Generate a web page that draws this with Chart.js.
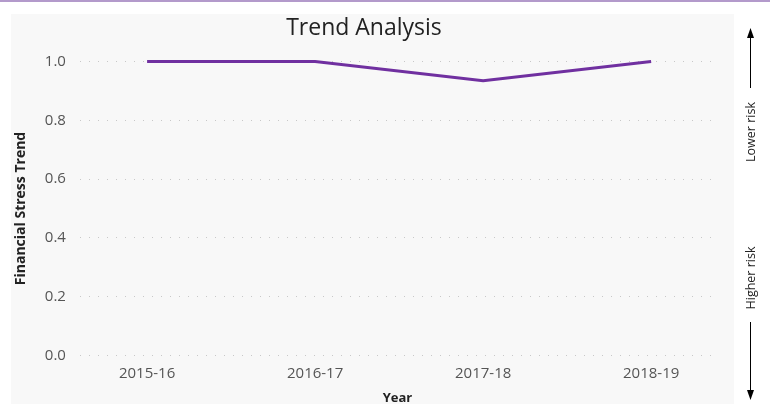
<!DOCTYPE html>
<html>
<head>
<meta charset="utf-8">
<script src="https://cdn.jsdelivr.net/npm/chart.js@4"></script>
<style>
  body { margin: 0; background: #fff; }
  #wrap { position: relative; width: 770px; height: 404px; }
</style>
</head>
<body>
<div id="wrap"><canvas id="trend" width="770" height="404"></canvas></div>
<script>
// chart data
const years = ['2015-16', '2016-17', '2017-18', '2018-19'];
const stressTrend = [1.0, 1.0, 0.935, 1.0];
const yTicks = [0, 0.2, 0.4, 0.6, 0.8, 1.0];

const FONT = "'Open Sans', 'DejaVu Sans', sans-serif";

// background panel, top border and the risk arrows on the right
const decor = {
  id: 'decor',
  beforeDraw(chart) {
    const ctx = chart.ctx;
    ctx.save();
    ctx.fillStyle = '#f8f8f8';
    ctx.fillRect(11, 14, 723, 390);
    ctx.fillStyle = '#b39acb';
    ctx.fillRect(0, 0, 770, 2);
    ctx.restore();
  },
  afterDraw(chart) {
    const ctx = chart.ctx;
    const x = 750;
    ctx.save();
    ctx.strokeStyle = '#000';
    ctx.fillStyle = '#000';
    ctx.lineWidth = 1;
    // up arrow
    ctx.beginPath();
    ctx.moveTo(x + 0.5, 36);
    ctx.lineTo(x + 0.5, 88);
    ctx.stroke();
    ctx.beginPath();
    ctx.moveTo(x + 0.5, 28);
    ctx.lineTo(x - 3, 38);
    ctx.lineTo(x + 4, 38);
    ctx.closePath();
    ctx.fill();
    // down arrow
    ctx.beginPath();
    ctx.moveTo(x + 0.5, 322);
    ctx.lineTo(x + 0.5, 392);
    ctx.stroke();
    ctx.beginPath();
    ctx.moveTo(x + 0.5, 400);
    ctx.lineTo(x - 3, 390);
    ctx.lineTo(x + 4, 390);
    ctx.closePath();
    ctx.fill();
    // rotated labels
    ctx.font = '12.5px ' + FONT;
    ctx.textAlign = 'center';
    ctx.textBaseline = 'middle';
    ctx.fillStyle = '#222';
    [['Lower risk', 132], ['Higher risk', 278]].forEach(([t, y]) => {
      ctx.save();
      ctx.translate(x + 1, y);
      ctx.rotate(-Math.PI / 2);
      ctx.fillText(t, 0, 0);
      ctx.restore();
    });
    ctx.restore();
  }
};

new Chart(document.getElementById('trend'), {
  type: 'line',
  data: {
    datasets: [{
      data: stressTrend.map((v, i) => ({ x: i, y: v })),
      borderColor: '#7030a0',
      borderWidth: 3,
      pointRadius: 0,
      tension: 0,
      fill: false,
      clip: false
    }]
  },
  options: {
    responsive: false,
    animation: false,
    layout: { padding: { left: 13, right: 55, top: 12, bottom: -2 } },
    plugins: {
      legend: { display: false },
      tooltip: { enabled: false },
      title: {
        display: true,
        text: 'Trend Analysis',
        color: '#222',
        font: { family: FONT, size: 23, weight: 'normal' },
        padding: { top: 3, bottom: 19 }
      }
    },
    scales: {
      x: {
        type: 'linear',
        min: -0.4,
        max: 3.38,
        afterBuildTicks: s => { s.ticks = years.map((y, i) => ({ value: i })); },
        ticks: {
          callback: v => years[v],
          color: '#555',
          font: { family: FONT, size: 15 },
          padding: 1
        },
        grid: { display: false },
        border: { display: false },
        title: {
          display: true,
          text: 'Year',
          color: '#222',
          font: { family: FONT, size: 13, weight: 'bold' },
          padding: { top: 7, bottom: 0 }
        }
      },
      y: {
        min: 0,
        max: 1,
        afterBuildTicks: s => { s.ticks = yTicks.map(v => ({ value: v })); },
        ticks: {
          callback: v => v.toFixed(1),
          color: '#555',
          font: { family: FONT, size: 15 },
          padding: 14
        },
        grid: {
          color: '#c8c8c8',
          lineWidth: 1,
          drawTicks: false,
          borderDash: [1, 8]
        },
        border: { display: false, dash: [1, 8] },
        title: {
          display: true,
          text: 'Financial Stress Trend',
          color: '#222',
          font: { family: FONT, size: 14, weight: 'bold' },
          padding: { top: 0, bottom: 1 }
        }
      }
    }
  },
  plugins: [decor]
});
</script>
</body>
</html>
